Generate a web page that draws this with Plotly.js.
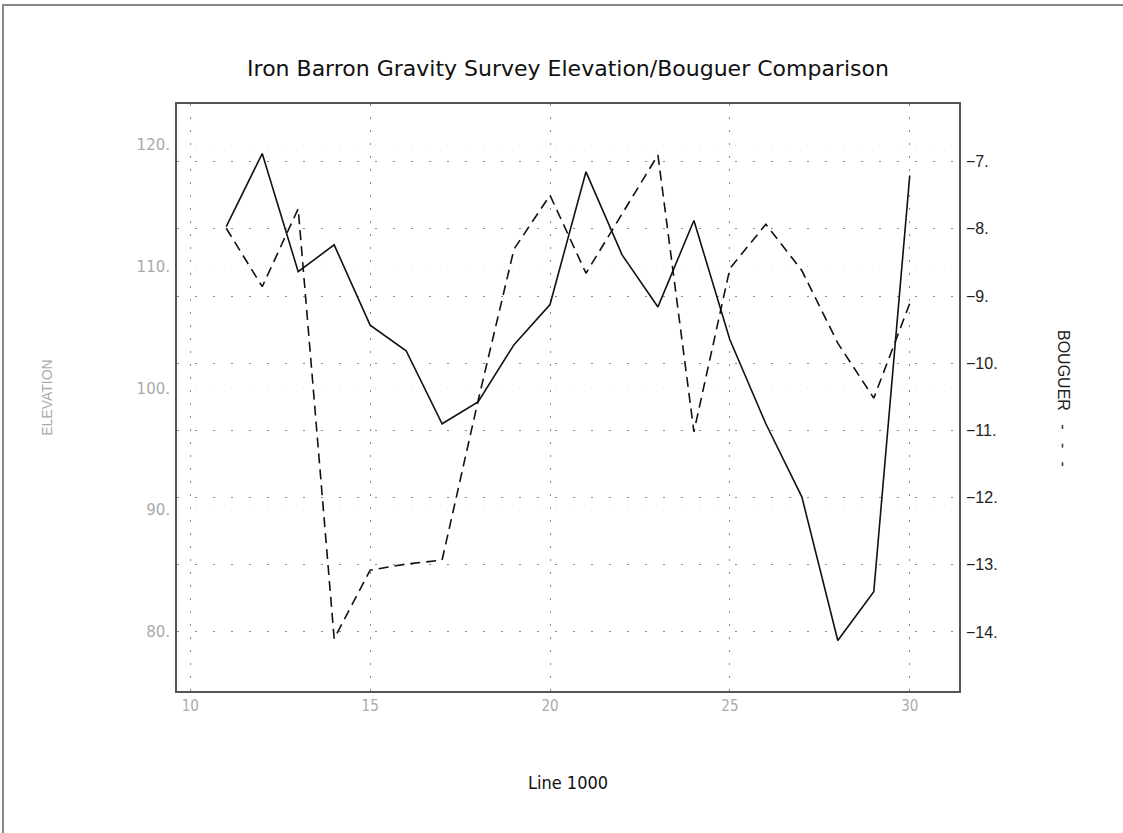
<!DOCTYPE html>
<html>
<head>
<meta charset="utf-8">
<script src="https://cdn.plot.ly/plotly-3.0.1.min.js"></script>
<style>
html,body{margin:0;padding:0;background:#fff;}
#chart{width:1123px;height:833px;}
</style>
</head>
<body>
<div id="chart"></div>
<script>
// Station numbers along Line 1000
const stations = [11,12,13,14,15,16,17,18,19,20,21,22,23,24,25,26,27,28,29,30];
// Elevation (left axis, solid line)
const elevation = [113.3,119.3,109.6,111.8,105.2,103.1,97.1,98.9,103.6,106.9,117.8,111.0,106.7,113.8,104.0,97.1,91.1,79.3,83.3,117.5];
// Bouguer anomaly (right axis, dashed line)
const bouguer = [-7.99,-8.86,-7.70,-14.10,-13.08,-12.99,-12.93,-10.56,-8.30,-7.50,-8.66,-7.78,-6.90,-11.02,-8.59,-7.93,-8.62,-9.70,-10.52,-9.11];

const xTicks = [10,15,20,25,30];
const xTickText = ['10','15','20','25','30'];
const elevTicks = [80,90,100,110,120];
const elevTickText = ['80.','90.','100.','110.','120.'];
const bougTicks = [-14,-13,-12,-11,-10,-9,-8,-7];
const bougTickText = ['\u221214.','\u221213.','\u221212.','\u221211.','\u221210.','\u22129.','\u22128.','\u22127.'];

const traces = [
  {x: stations, y: elevation, type: 'scatter', mode: 'lines', name: 'ELEVATION',
   line: {color: '#111', width: 1.6}, yaxis: 'y'},
  {x: stations, y: bouguer, type: 'scatter', mode: 'lines', name: 'BOUGUER',
   line: {color: '#111', width: 1.6, dash: '10px,6px'}, yaxis: 'y2'}
];

const plotL = 177, plotR = 164, plotT = 104, plotB = 142;
const W = 1123, H = 833;
const pw = W - plotL - plotR, ph = H - plotT - plotB;

const layout = {
  width: W, height: H,
  margin: {l: plotL, r: plotR, t: plotT, b: plotB, pad: 0},
  paper_bgcolor: '#fff', plot_bgcolor: '#fff',
  showlegend: false,
  font: {family: 'Liberation Sans, Arial, sans-serif', color: '#111'},
  title: {text: 'Iron Barron Gravity Survey Elevation/Bouguer Comparison',
          x: (plotL + pw/2)/W, xanchor: 'center', y: 1 - 68/H, yanchor: 'middle',
          font: {family: 'DejaVu Sans, sans-serif', size: 22, color: '#111'}},
  xaxis: {
    range: [9.631, 31.369], tickvals: xTicks, ticktext: xTickText, ticks: '',
    showgrid: true, gridcolor: '#888', gridwidth: 1, griddash: '2px,11px',
    zeroline: false, showline: true, mirror: true, linecolor: '#555', linewidth: 2,
    tickfont: {family: 'DejaVu Sans Condensed, DejaVu Sans, sans-serif', size: 15, color: '#aaa'},
    title: {text: 'Line 1000', standoff: 62,
            font: {family: 'DejaVu Sans Condensed, DejaVu Sans, sans-serif', size: 18, color: '#111'}}
  },
  yaxis: {
    range: [75.15, 123.37], tickvals: elevTicks, ticktext: elevTickText, ticks: '',
    showgrid: true, gridcolor: '#ddd', gridwidth: 1, griddash: '1px,17px',
    zeroline: false, showline: true, mirror: true, linecolor: '#555', linewidth: 2,
    ticklabelstandoff: 2,
    tickfont: {family: 'DejaVu Sans, sans-serif', size: 15, color: '#aaa'},
    title: {text: 'ELEVATION', standoff: 81,
            font: {family: 'Liberation Sans, Arial, sans-serif', size: 14, color: '#aaa'}}
  },
  yaxis2: {
    range: [-14.879, -6.141], overlaying: 'y', side: 'right',
    tickvals: bougTicks, ticktext: bougTickText, ticks: '',
    showgrid: true, gridcolor: '#888', gridwidth: 1, griddash: '2px,16px',
    zeroline: false, showline: false,
    ticklabelstandoff: 6,
    tickfont: {family: 'Liberation Sans, Arial, sans-serif', size: 16, color: '#222'}
  },
  annotations: [
    {text: 'BOUGUER\u00a0\u00a0\u00a0-\u00a0\u00a0\u00a0-\u00a0\u00a0\u00a0-', xref: 'paper', yref: 'paper',
     x: (1063 - plotL)/pw, y: 1 - (398 - plotT)/ph, xanchor: 'center', yanchor: 'middle',
     textangle: 90, showarrow: false,
     font: {family: 'Liberation Sans, Arial, sans-serif', size: 16, color: '#222'}}
  ],
  shapes: [
    {type: 'line', xref: 'paper', yref: 'paper', x0: (3 - plotL)/pw, x1: (3 - plotL)/pw,
     y0: 1 + (plotT - 4)/ph, y1: -plotB/ph, line: {color: '#888', width: 2}},
    {type: 'line', xref: 'paper', yref: 'paper', x0: (3 - plotL)/pw, x1: (W - plotL)/pw,
     y0: 1 + (plotT - 5)/ph, y1: 1 + (plotT - 5)/ph, line: {color: '#888', width: 2}}
  ]
};

Plotly.newPlot('chart', traces, layout, {displayModeBar: false, staticPlot: true});
</script>
</body>
</html>
